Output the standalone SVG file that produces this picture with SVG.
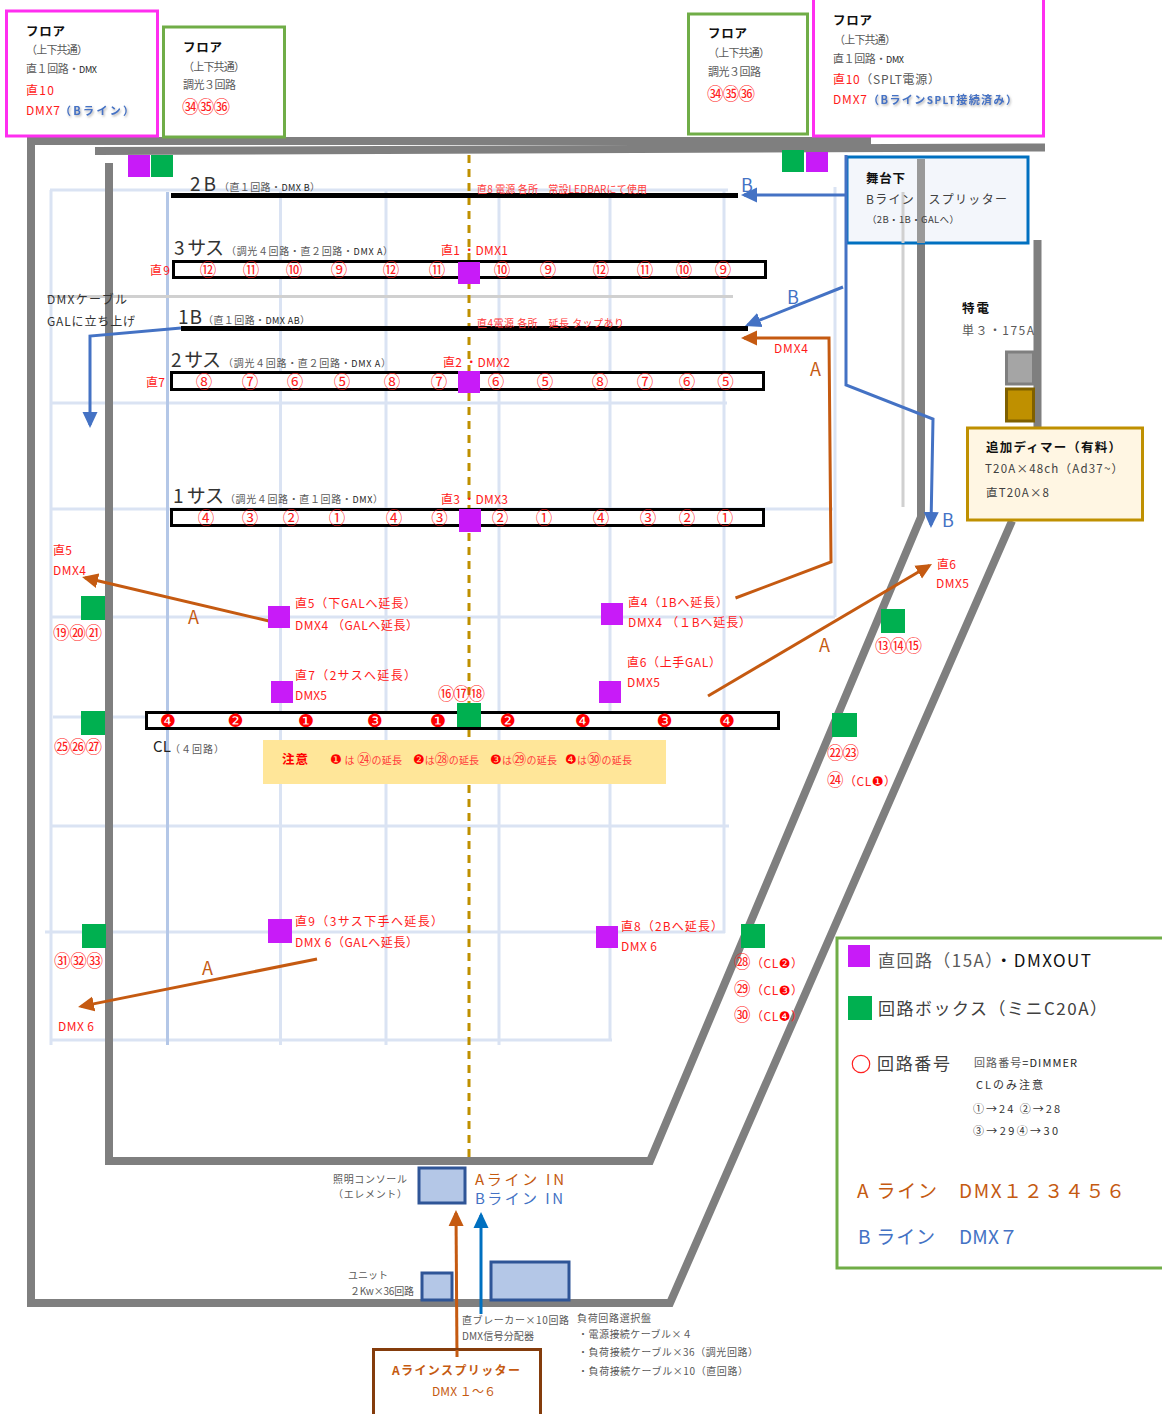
<svg xmlns="http://www.w3.org/2000/svg" width="1162" height="1414" viewBox="0 0 1162 1414">
<style>
text{font-family:"Noto Sans CJK JP","DejaVu Sans",sans-serif;font-size:11px;fill:#595959}
.b{font-weight:700;fill:#111}
.r{fill:#ff1a1a;font-size:12px}
.rs{fill:#ff3b3b;font-size:10px}
.c{fill:#ff2020;font-size:16.500px}
.k{fill:#333}
.bl{fill:#4472c4}
.or{fill:#c55a11}
.h{font-size:19px;fill:#333}
.n{font-size:15px;fill:#222}
.m{font-size:9px;fill:#222}
.bb{font-weight:700;fill:#4472c4;filter:url(#sh)}
.cl{font-size:18px;fill:#f00;text-anchor:middle;font-family:"DejaVu Sans",sans-serif}
.in{fill:#f00;font-family:"DejaVu Sans","Noto Sans CJK JP",sans-serif}
.gr{fill:none;stroke:#dae3f3;stroke-width:3}
.wall{fill:none;stroke:#7f7f7f;stroke-width:8}
.bar{fill:#fff;stroke:#000;stroke-width:3}
.p{fill:#c81bf8}
.g{fill:#00b050}
.unit{fill:#b4c7e7;stroke:#2f5597;stroke-width:3}
.fo{fill:none;stroke:#c55a11;stroke-width:3}
.fb{fill:none;stroke:#4472c4;stroke-width:3}
.mg{fill:#fff;stroke:#ff2ef0;stroke-width:3}
.gn{fill:#fff;stroke:#70ad47;stroke-width:3}
.al{font-size:18px}
</style>
<defs>
<marker id="ao" markerUnits="userSpaceOnUse" markerWidth="16" markerHeight="16" viewBox="0 0 16 16" refX="13" refY="8" orient="auto"><path d="M0 0.5L16 8L0 15.5z" fill="#c55a11"/></marker>
<marker id="ab" markerUnits="userSpaceOnUse" markerWidth="16" markerHeight="16" viewBox="0 0 16 16" refX="13" refY="8" orient="auto"><path d="M0 0.5L16 8L0 15.5z" fill="#4472c4"/></marker>
<marker id="ac" markerUnits="userSpaceOnUse" markerWidth="16" markerHeight="16" viewBox="0 0 16 16" refX="13" refY="8" orient="auto"><path d="M0 0.5L16 8L0 15.5z" fill="#0070c0"/></marker>
<filter id="sh" x="-10%" y="-30%" width="120%" height="170%"><feDropShadow dx="1" dy="1.5" stdDeviation="1.2" flood-color="#777" flood-opacity=".6"/></filter>
</defs>
<rect width="1162" height="1414" fill="#fff"/>

<g id="grid">
<path class="gr" d="M50 190H728M50 403H727M50 509H833M50 617H835M53 717H780M50 826H729M45 932H725M50 1040H612"/>
<path class="gr" d="M51 190V1045M280.500 190V1045M386 190V1045M499 190V1045M610 190V1040M724 190V933M835 187V617"/>
<path d="M167.500 192V1045" fill="none" stroke="#b4c7e7" stroke-width="3"/>
<path d="M47 296.500H733" fill="none" stroke="#d0d0d0" stroke-width="3"/>
<path d="M903 192V507" fill="none" stroke="#d0d0d0" stroke-width="3"/>
</g>
<g id="walls">
<path class="wall" d="M27 141H871M31 137V1303H670L1012 521M95 151L1045 147.500M109 163V1161H650L921 517V159M1037.500 240V427"/>
</g>
<path id="centerline" d="M469 155V1160" fill="none" stroke="#bf9000" stroke-width="3" stroke-dasharray="8 6"/>

<g id="bar-2B"><rect x="171" y="193" width="567" height="5"/><text class="h" x="190" y="191" textLength="26">2 B</text><text x="219" y="191" textLength="101" style="font-size:10px">（直１回路・<tspan class="m">DMX B</tspan>）</text></g>
<g id="bar-3sus"><rect class="bar" x="173.500" y="261.500" width="592" height="16"/><text class="h" x="174" y="255" textLength="50">3 サス</text><text x="226" y="255" textLength="167" style="font-size:10px">（調光４回路・直２回路・<tspan class="m">DMX A</tspan>）</text></g>
<g id="bar-1B"><rect x="181" y="326" width="567" height="5"/><text class="h" x="178" y="324" textLength="24">1 B</text><text x="203" y="324" textLength="107" style="font-size:10px">（直１回路・<tspan class="m">DMX AB</tspan>）</text></g>
<g id="bar-2sus"><rect class="bar" x="171.500" y="372.500" width="592" height="17"/><text class="h" x="171" y="367" textLength="50">2 サス</text><text x="223" y="367" textLength="168" style="font-size:10px">（調光４回路・直２回路・<tspan class="m">DMX A</tspan>）</text></g>
<g id="bar-1sus"><rect class="bar" x="171.500" y="509.500" width="592" height="16"/><text class="h" x="173" y="503" textLength="51">1 サス</text><text x="225" y="503" textLength="158" style="font-size:10px">（調光４回路・直１回路・<tspan class="m">DMX</tspan>）</text></g>
<g id="bar-CL"><rect class="bar" x="146.500" y="712.500" width="632" height="16"/><text class="n" x="153" y="752" textLength="18">CL</text><text x="170" y="753" textLength="54" style="font-size:10px">（４回路）</text></g>

<g id="notice"><rect x="263" y="740" width="403" height="44" fill="#ffe699"/>
<text class="b" style="fill:#f00;font-size:12.500px" x="282" y="764" textLength="26">注意</text>
<text class="rs" x="330" y="764" textLength="72"><tspan class="in" style="font-size:13px">❶</tspan> は <tspan style="font-size:14px">㉔</tspan>の延長</text>
<text class="rs" x="413" y="764" textLength="66"><tspan class="in" style="font-size:13px">❷</tspan>は<tspan style="font-size:14px">㉘</tspan>の延長</text>
<text class="rs" x="490" y="764" textLength="67"><tspan class="in" style="font-size:13px">❸</tspan>は<tspan style="font-size:14px">㉙</tspan>の延長</text>
<text class="rs" x="565" y="764" textLength="67"><tspan class="in" style="font-size:13px">❹</tspan>は<tspan style="font-size:14px">㉚</tspan>の延長</text>
</g>

<g id="n-floor-a"><rect class="mg" x="6.500" y="11" width="151" height="125"/>
<text class="b" style="font-size:12.500px" x="26" y="36" textLength="39">フロア</text>
<text x="26" y="54" textLength="62">（上下共通）</text>
<text x="26" y="73" textLength="71">直１回路・<tspan class="m">DMX</tspan></text>
<text class="r" x="26" y="95" textLength="28">直10</text>
<text class="r" x="26" y="115" textLength="34">DMX7</text><text class="bb" x="60" y="115" textLength="74">（Bライン）</text></g>
<g id="n-floor-b"><rect class="gn" x="163.500" y="27" width="121" height="110"/>
<text class="b" style="font-size:12.500px" x="183" y="52" textLength="39">フロア</text>
<text x="183" y="71" textLength="62">（上下共通）</text>
<text x="183" y="89" textLength="53">調光３回路</text>
<text class="c" x="182" y="113" textLength="48">㉞㉟㊱</text></g>
<g id="n-floor-c"><rect class="gn" x="688.500" y="14" width="119" height="120"/>
<text class="b" style="font-size:12.500px" x="708" y="38" textLength="39">フロア</text>
<text x="708" y="57" textLength="62">（上下共通）</text>
<text x="708" y="76" textLength="53">調光３回路</text>
<text class="c" x="707" y="100" textLength="48">㉞㉟㊱</text></g>
<g id="n-floor-d"><rect class="mg" x="813.500" y="-2" width="230" height="138"/>
<text class="b" style="font-size:12.500px" x="833" y="25" textLength="39">フロア</text>
<text x="834" y="44" textLength="62">（上下共通）</text>
<text x="833" y="63" textLength="71">直１回路・<tspan class="m">DMX</tspan></text>
<text x="833" y="84" style="font-size:12px" textLength="107"><tspan class="r">直10</tspan>（SPLT電源）</text>
<text class="r" x="833" y="104" textLength="34">DMX7</text><text class="bb" x="868" y="104" textLength="149">（Bライン<tspan style="font-size:10px">SPLT</tspan>接続済み）</text></g>

<g id="n-stage-splitter"><rect x="847" y="157" width="181" height="86" fill="#f3f6fb" stroke="#0070c0" stroke-width="3"/>
<path d="M921 159V243" stroke="#999" stroke-width="8"/><path d="M903 192V243" stroke="#d0d0d0" stroke-width="3"/>
<text class="b" style="font-size:12.500px" x="866" y="183" textLength="39">舞台下</text>
<text style="fill:#404040;font-size:12px" x="866" y="204" textLength="141">Bライン　スプリッター</text>
<text style="fill:#404040;font-size:9.500px" x="867" y="223" textLength="92">（2B・1B・GALへ）</text></g>

<g id="n-tokuden"><rect x="1006.500" y="352" width="27" height="32" fill="#a5a5a5" stroke="#7f7f7f" stroke-width="3"/><rect x="1006.500" y="389" width="27" height="32" fill="#bf9000" stroke="#7f6000" stroke-width="3"/>
<text class="b" style="font-size:12.500px" x="962" y="313" textLength="27">特電</text>
<text style="font-size:12px" x="962" y="335" textLength="72">単３・175A</text></g>
<g id="n-add-dimmer"><rect x="967.500" y="428" width="175" height="92" fill="#fff6e3" stroke="#bf9000" stroke-width="3"/>
<text class="b" style="font-size:12.500px" x="986" y="452" textLength="135">追加ディマー（有料）</text>
<text style="fill:#404040;font-size:11.500px" x="985" y="473" textLength="138">T20A×48ch（Ad37~）</text>
<text style="fill:#404040;font-size:11.500px" x="986" y="497" textLength="63">直T20A×8</text></g>

<g id="connectors">
<path class="fo" d="M269 621L85 577.700" marker-end="url(#ao)"/>
<path class="fo" d="M735.500 598L831 562L829 338H744" marker-end="url(#ao)"/>
<path class="fo" d="M708 696L929.400 565.500" marker-end="url(#ao)"/>
<path class="fo" d="M317 959L81 1006.400" marker-end="url(#ao)"/>
<path class="fo" d="M457 1357L456 1213" marker-end="url(#ao)"/>
<path class="fb" d="M846 195H744" marker-end="url(#ab)"/>
<path class="fb" d="M843 287L747.800 324.900" marker-end="url(#ab)"/>
<path class="fb" d="M846 155V385L933 419L931 525" marker-end="url(#ab)"/>
<path class="fb" d="M181 328L90 336V425" marker-end="url(#ab)"/>
<path d="M481 1314V1215" fill="none" stroke="#0070c0" stroke-width="3" marker-end="url(#ac)"/>
<text class="bl al" x="741" y="192">B</text>
<text class="bl al" x="787" y="304">B</text>
<text class="bl al" x="942" y="527">B</text>
<text class="or al" x="810" y="376">A</text>
<text class="or al" x="188" y="624">A</text>
<text class="or al" x="819" y="652">A</text>
<text class="or al" x="202" y="975">A</text>
</g>

<g id="n-p1"><rect class="p" x="128" y="155" width="22" height="22"/></g>
<g id="n-g1"><rect class="g" x="151" y="155" width="22" height="22"/></g>
<g id="n-g2"><rect class="g" x="782" y="150" width="22" height="22"/></g>
<g id="n-p2"><rect class="p" x="806" y="152" width="22" height="20"/></g>
<g id="n-p-d1"><rect class="p" x="458" y="262" width="22" height="22"/><text class="r" x="441" y="255" textLength="67">直1 ・DMX1</text></g>
<g id="n-p-d2"><rect class="p" x="458" y="371" width="22" height="22"/><text class="r" x="443" y="367" textLength="67">直2 ・DMX2</text></g>
<g id="n-p-d3"><rect class="p" x="459" y="509" width="22" height="23"/><text class="r" x="441" y="504" textLength="67">直3 ・DMX3</text></g>
<g id="n-p-d5"><rect class="p" x="268" y="606" width="22" height="22"/><text class="r" x="295" y="608" textLength="121">直5（下GALへ延長）</text><text class="r" x="295" y="630" textLength="123">DMX4 （GALへ延長）</text></g>
<g id="n-p-d4"><rect class="p" x="601" y="603" width="22" height="22"/><text class="r" x="628" y="607" textLength="100">直4（1Bへ延長）</text><text class="r" x="628" y="627" textLength="123">DMX4 （１Bへ延長）</text></g>
<g id="n-p-d7"><rect class="p" x="271" y="681" width="22" height="22"/><text class="r" x="295" y="680" textLength="121">直7（2サスへ延長）</text><text class="r" x="295" y="700" textLength="32">DMX5</text></g>
<g id="n-p-d6"><rect class="p" x="599" y="681" width="22" height="22"/><text class="r" x="627" y="667" textLength="94">直6（上手GAL）</text><text class="r" x="627" y="687" textLength="33">DMX5</text></g>
<g id="n-p-d9"><rect class="p" x="268" y="919" width="24" height="24"/><text class="r" x="295" y="926" textLength="148">直9（3サス下手へ延長）</text><text class="r" x="295" y="947" textLength="123">DMX 6（GALへ延長）</text></g>
<g id="n-p-d8"><rect class="p" x="596" y="926" width="22" height="22"/><text class="r" x="621" y="931" textLength="102">直8（2Bへ延長）</text><text class="r" x="621" y="951" textLength="36">DMX 6</text></g>

<g id="n-g-19"><rect class="g" x="81" y="596" width="24" height="24"/><text class="c" x="53" y="639" textLength="49">⑲⑳㉑</text></g>
<g id="n-g-13"><rect class="g" x="881" y="609" width="24" height="24"/><text class="c" x="875" y="652" textLength="47">⑬⑭⑮</text></g>
<g id="n-g-16"><rect class="g" x="457" y="703" width="24" height="24"/><text class="c" x="438" y="700" textLength="47">⑯⑰⑱</text></g>
<g id="n-g-25"><rect class="g" x="81" y="711" width="24" height="24"/><text class="c" x="54" y="753" textLength="48">㉕㉖㉗</text></g>
<g id="n-g-22"><rect class="g" x="832" y="713" width="25" height="24"/><text class="c" x="827" y="759" textLength="32">㉒㉓</text><text class="c" x="827" y="786" textLength="69">㉔<tspan style="font-size:12px">（CL</tspan><tspan class="in" style="font-size:13px">❶</tspan><tspan style="font-size:12px">）</tspan></text></g>
<g id="n-g-31"><rect class="g" x="82" y="924" width="24" height="24"/><text class="c" x="54" y="967" textLength="49">㉛㉜㉝</text></g>
<g id="n-g-28"><rect class="g" x="741" y="924" width="24" height="24"/>
<text class="c" x="734" y="968" textLength="69">㉘<tspan style="font-size:12px">（CL</tspan><tspan class="in" style="font-size:13px">❷</tspan><tspan style="font-size:12px">）</tspan></text>
<text class="c" x="734" y="995" textLength="69">㉙<tspan style="font-size:12px">（CL</tspan><tspan class="in" style="font-size:13px">❸</tspan><tspan style="font-size:12px">）</tspan></text>
<text class="c" x="734" y="1021" textLength="69">㉚<tspan style="font-size:12px">（CL</tspan><tspan class="in" style="font-size:13px">❹</tspan><tspan style="font-size:12px">）</tspan></text></g>

<g id="labels-circuits">
<text class="c" text-anchor="middle" x="208" y="276">⑫</text><text class="c" text-anchor="middle" x="251" y="276">⑪</text><text class="c" text-anchor="middle" x="294" y="276">⑩</text><text class="c" text-anchor="middle" x="339" y="276">⑨</text><text class="c" text-anchor="middle" x="391" y="276">⑫</text><text class="c" text-anchor="middle" x="437" y="276">⑪</text><text class="c" text-anchor="middle" x="502" y="276">⑩</text><text class="c" text-anchor="middle" x="548" y="276">⑨</text><text class="c" text-anchor="middle" x="601" y="276">⑫</text><text class="c" text-anchor="middle" x="645" y="276">⑪</text><text class="c" text-anchor="middle" x="684" y="276">⑩</text><text class="c" text-anchor="middle" x="723" y="276">⑨</text>
<text class="c" text-anchor="middle" x="204" y="388">⑧</text><text class="c" text-anchor="middle" x="250" y="388">⑦</text><text class="c" text-anchor="middle" x="295" y="388">⑥</text><text class="c" text-anchor="middle" x="342" y="388">⑤</text><text class="c" text-anchor="middle" x="392" y="388">⑧</text><text class="c" text-anchor="middle" x="439" y="388">⑦</text><text class="c" text-anchor="middle" x="496" y="388">⑥</text><text class="c" text-anchor="middle" x="545" y="388">⑤</text><text class="c" text-anchor="middle" x="600" y="388">⑧</text><text class="c" text-anchor="middle" x="645" y="388">⑦</text><text class="c" text-anchor="middle" x="687" y="388">⑥</text><text class="c" text-anchor="middle" x="725.500" y="388">⑤</text>
<text class="c" text-anchor="middle" x="206" y="524">④</text><text class="c" text-anchor="middle" x="250" y="524">③</text><text class="c" text-anchor="middle" x="291" y="524">②</text><text class="c" text-anchor="middle" x="337" y="524">①</text><text class="c" text-anchor="middle" x="394" y="524">④</text><text class="c" text-anchor="middle" x="439.500" y="524">③</text><text class="c" text-anchor="middle" x="500" y="524">②</text><text class="c" text-anchor="middle" x="544" y="524">①</text><text class="c" text-anchor="middle" x="601" y="524">④</text><text class="c" text-anchor="middle" x="648" y="524">③</text><text class="c" text-anchor="middle" x="687" y="524">②</text><text class="c" text-anchor="middle" x="725" y="524">①</text>
<text class="cl" x="168" y="727">❹</text><text class="cl" x="235.500" y="727">❷</text><text class="cl" x="306" y="727">❶</text><text class="cl" x="375" y="727">❸</text><text class="cl" x="438" y="727">❶</text><text class="cl" x="507.700" y="727">❷</text><text class="cl" x="583" y="727">❹</text><text class="cl" x="664.700" y="727">❸</text><text class="cl" x="727" y="727">❹</text>
</g>

<g id="labels-misc">
<text class="rs" x="477" y="193" textLength="170">直8 電源 各所　常設LEDBARにて使用</text>
<text class="rs" x="477" y="327" textLength="147">直4電源 各所　延長 タップあり</text>
<text class="r" x="150" y="275" textLength="20">直9</text>
<text class="r" x="146" y="387" textLength="19">直7</text>
<text class="k" style="font-size:12px" x="47" y="304" textLength="80">DMXケーブル</text>
<text class="k" style="font-size:12px" x="47" y="326" textLength="88">GALに立ち上げ</text>
<text class="r" x="774" y="353" textLength="34">DMX4</text>
<text class="r" x="53" y="555" textLength="19">直5</text><text class="r" x="53" y="575" textLength="33">DMX4</text>
<text class="r" x="937" y="569" textLength="19">直6</text><text class="r" x="936" y="588" textLength="33">DMX5</text>
<text class="r" x="58" y="1031" textLength="36">DMX 6</text>
</g>

<g id="n-legend"><rect x="837" y="938" width="330" height="330" fill="#fff" stroke="#70ad47" stroke-width="3"/>
<rect class="p" x="848" y="945" width="22" height="22"/><rect class="g" x="848" y="996" width="24" height="24"/>
<circle cx="861" cy="1064" r="8.700" fill="none" stroke="#ff2020" stroke-width="1.200"/>
<text style="font-size:17px" x="878" y="967" textLength="213">直回路（15A）<tspan style="fill:#111">・DMXOUT</tspan></text>
<text style="font-size:17px;fill:#404040" x="878" y="1015" textLength="229">回路ボックス（ミニC20A）</text>
<text style="font-size:17px;fill:#404040" x="877" y="1070" textLength="73">回路番号</text>
<text x="974" y="1067" textLength="103">回路番号<tspan style="fill:#222">=DIMMER</tspan></text>
<text class="k" x="976" y="1089" textLength="67">CLのみ注意</text>
<text class="k" x="973" y="1113" textLength="87">①→24 ②→28</text>
<text class="k" x="973" y="1135" textLength="85">③→29④→30</text>
<text class="or" style="font-size:19px" x="857" y="1198" textLength="80">A ライン</text>
<text class="or" style="font-size:19px" x="959" y="1198" textLength="166">DMX１２３４５６</text>
<text class="bl" style="font-size:19px" x="858" y="1244" textLength="77">B ライン</text>
<text class="bl" style="font-size:19px" x="959" y="1244" textLength="59">DMX７</text></g>

<g id="n-console"><rect class="unit" x="419" y="1168" width="46" height="35"/>
<text style="font-size:10px" x="333" y="1183" textLength="74">照明コンソール</text><text style="font-size:10px" x="333" y="1198" textLength="74">（エレメント）</text>
<text class="or" style="font-size:15px" x="475" y="1185" textLength="89">Aライン IN</text><text class="bl" style="font-size:15px" x="475" y="1204" textLength="88">Bライン IN</text></g>
<g id="n-unit"><rect class="unit" x="422" y="1273" width="30" height="27"/>
<text style="font-size:10px" x="348" y="1279" textLength="40">ユニット</text><text style="font-size:10px" x="350" y="1295" textLength="64">２Kw×36回路</text></g>
<g id="n-panel"><rect class="unit" x="491" y="1262" width="78" height="38"/>
<text style="font-size:10px" x="462" y="1324" textLength="107">直ブレーカー×10回路</text><text style="font-size:10px" x="462" y="1340" textLength="72">DMX信号分配器</text>
<text style="font-size:10px" x="577" y="1322" textLength="74">負荷回路選択盤</text>
<text style="font-size:10px" x="578" y="1338" textLength="114">・電源接続ケーブル×４</text>
<text style="font-size:10px" x="578" y="1356" textLength="180">・負荷接続ケーブル×36（調光回路）</text>
<text style="font-size:10px" x="578" y="1375" textLength="170">・負荷接続ケーブル×10（直回路）</text></g>
<g id="n-a-splitter"><path d="M373.500 1420V1349.500H540.500V1420" fill="#fff" stroke="#843c0c" stroke-width="3"/>
<path d="M457 1350V1357" fill="none" stroke="#c55a11" stroke-width="3"/>
<text class="or" style="font-weight:700;font-size:12px" x="392" y="1375" textLength="128">Aラインスプリッター</text>
<text class="or" style="font-size:12px" x="432" y="1396" textLength="64">DMX １～６</text></g>
</svg>
